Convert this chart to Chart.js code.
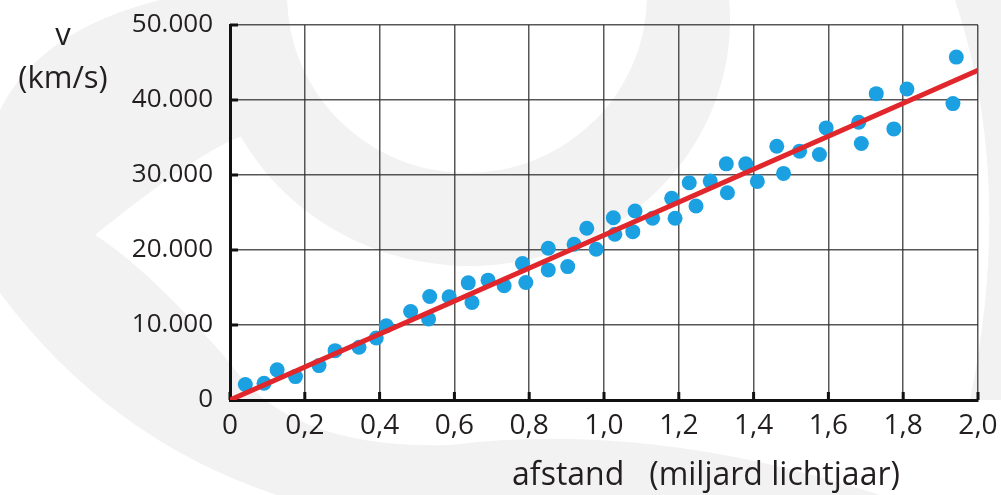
<!DOCTYPE html>
<html><head><meta charset="utf-8">
<script src="https://cdn.jsdelivr.net/npm/chart.js@4.4.1/dist/chart.umd.min.js"></script>
<style>html,body{margin:0;padding:0;background:#fff;overflow:hidden}</style>
</head><body>
<canvas id="c" width="1001" height="495"></canvas>
<script>
// ---- data ----
const distance = [0.041,0.091,0.126,0.175,0.238,0.281,0.345,0.391,0.418,0.483,0.531,0.534,0.586,0.637,0.647,0.690,0.733,0.782,0.791,0.851,0.851,0.903,0.920,0.954,0.979,1.025,1.029,1.077,1.083,1.130,1.181,1.190,1.228,1.246,1.284,1.327,1.330,1.379,1.410,1.462,1.480,1.523,1.576,1.594,1.681,1.688,1.728,1.775,1.810,1.933,1.942];
const velocity = [2060,2240,4020,3120,4590,6580,7030,8270,9900,11800,10800,13800,13760,15620,13000,15980,15230,18200,15660,20240,17350,17790,20770,22900,20100,24300,22100,22450,25200,24230,26890,24230,28960,25860,29190,31490,27630,31490,29150,33840,30210,33180,32740,36280,37030,34200,40850,36150,41460,39520,45720];
const fitX = [0, 2.0];
const fitY = [0, 43950];
const xTickLabels = ['0','0,2','0,4','0,6','0,8','1,0','1,2','1,4','1,6','1,8','2,0'];
const yTickLabels = ['0','10.000','20.000','30.000','40.000','50.000'];
const yTitle = ['v','(km/s)'];
const xTitle = 'afstand   (miljard lichtjaar)';

const FONT = "'Open Sans', 'Noto Sans', sans-serif";
const TXT = '#231f20';
const GRID = 'rgba(45,45,45,0.8)';

const watermark = {
  id:'watermark',
  beforeDraw(chart){
    const ctx = chart.ctx;
    ctx.save();
    ctx.fillStyle = '#ffffff';
    ctx.fillRect(0,0,chart.width,chart.height);
    ctx.fillStyle = '#f2f2f2';
    // top crescent
    ctx.beginPath();
    ctx.ellipse(470,20,260,246,0,0,Math.PI*2);
    ctx.ellipse(467,-5,180,178,0,0,Math.PI*2);
    ctx.fill('evenodd');
    // left / bottom band
    ctx.beginPath();
    ctx.moveTo(160,0);
    ctx.quadraticCurveTo(40,30,0,110);
    ctx.lineTo(0,293);
    ctx.quadraticCurveTo(110,440,277,495);
    ctx.lineTo(880,495);
    ctx.quadraticCurveTo(650,420,450,445);
    ctx.quadraticCurveTo(290,450,230,363);
    ctx.quadraticCurveTo(150,270,95,235);
    ctx.quadraticCurveTo(200,150,245,135);
    ctx.quadraticCurveTo(262,60,265,0);
    ctx.closePath();
    ctx.fill();
    // right band
    ctx.beginPath();
    ctx.moveTo(955,0);
    ctx.quadraticCurveTo(1015,180,970,400);
    ctx.lineTo(1001,400);
    ctx.lineTo(1001,0);
    ctx.closePath();
    ctx.fill();
    ctx.restore();
  }
};

const extras = {
  id:'extras',
  beforeDatasetsDraw(chart){
    const ctx = chart.ctx, xs = chart.scales.x, ys = chart.scales.y;
    const a = chart.chartArea;
    ctx.save();
    ctx.strokeStyle = '#111';
    ctx.lineWidth = 3;
    ctx.beginPath();
    xs.ticks.forEach(t=>{ const px = xs.getPixelForValue(t.value); ctx.moveTo(px,a.bottom); ctx.lineTo(px,a.bottom-8); });
    ys.ticks.forEach(t=>{ const py = ys.getPixelForValue(t.value); ctx.moveTo(a.left,py); ctx.lineTo(a.left+8,py); });
    ctx.stroke();
    ctx.restore();
  },
  afterDraw(chart){
    const ctx = chart.ctx;
    ctx.save();
    ctx.fillStyle = TXT;
    ctx.textAlign = 'center';
    ctx.textBaseline = 'alphabetic';
    ctx.font = "31px " + FONT;
    ctx.fillText(yTitle[0], 63, 45);
    ctx.fillText(yTitle[1], 63, 88);
    ctx.font = "32px " + FONT;
    ctx.fillText(xTitle, 706, 485);
    ctx.restore();
  }
};

const pts = distance.map((d,i)=>({x:d, y:velocity[i]}));
const fit = fitX.map((d,i)=>({x:d, y:fitY[i]}));

new Chart(document.getElementById('c'), {
  type:'scatter',
  data:{ datasets:[
    { data: pts, backgroundColor:'#1ba1e2', borderColor:'#1ba1e2', pointRadius:7.5, pointBorderWidth:0, order:2 },
    { data: fit, showLine:true, borderColor:'#e1262c', borderWidth:5, pointRadius:0, order:1 }
  ]},
  options:{
    responsive:false, animation:false, devicePixelRatio:1,
    layout:{ padding:{ top:25, right:23, left:0, bottom:0 } },
    plugins:{ legend:{display:false}, tooltip:{enabled:false} },
    events:[],
    scales:{
      x:{ type:'linear', min:0, max:2,
        ticks:{ stepSize:0.2, padding:9, maxRotation:0, autoSkip:false, color:TXT, font:{family:FONT,size:28},
          callback:(v)=> xTickLabels[Math.round(v/0.2)] },
        grid:{ color:GRID, lineWidth:1.5, drawTicks:false },
        border:{ color:'#111', width:3 },
        afterFit:(s)=>{ s.height = 95; s.paddingLeft = 0; s.paddingRight = 0; } },
      y:{ min:0, max:50000,
        ticks:{ stepSize:10000, padding:17, color:TXT, font:{family:FONT,size:26},
          callback:(v)=> yTickLabels[Math.round(v/10000)] },
        grid:{ color:GRID, lineWidth:1.5, drawTicks:false },
        border:{ color:'#111', width:3 },
        afterFit:(s)=>{ s.width = 230; s.paddingTop = 0; s.paddingBottom = 0; } }
    }
  },
  plugins:[watermark, extras]
});
</script>
</body></html>
